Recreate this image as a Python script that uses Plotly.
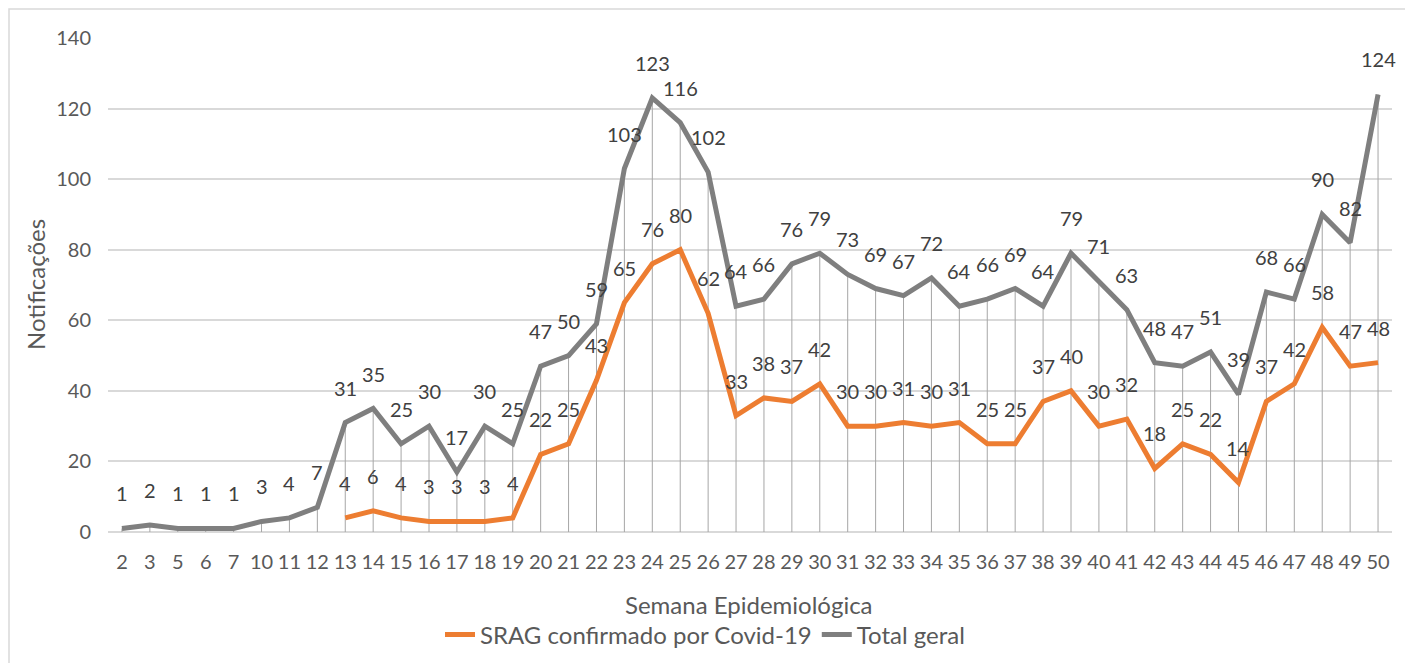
import plotly.graph_objects as go

weeks = ["2", "3", "5", "6", "7", "10", "11", "12"] + [str(w) for w in range(13, 51)]
total_geral = [1, 2, 1, 1, 1, 3, 4, 7, 31, 35, 25, 30, 17, 30, 25, 47, 50, 59, 103, 123,
               116, 102, 64, 66, 76, 79, 73, 69, 67, 72, 64, 66, 69, 64, 79, 71, 63, 48,
               47, 51, 39, 68, 66, 90, 82, 124]
srag_weeks = [str(w) for w in range(13, 51)]
srag_covid = [4, 6, 4, 3, 3, 3, 4, 22, 25, 43, 65, 76, 80, 62, 33, 38, 37, 42, 30, 30,
              31, 30, 31, 25, 25, 37, 40, 30, 32, 18, 25, 22, 14, 37, 42, 58, 47, 48]
y_ticks = [0, 20, 40, 60, 80, 100, 120, 140]

FONT = "Lato, 'Open Sans', sans-serif"
ORANGE = "#ED7D31"
GRAY = "#7F7F7F"

fig = go.Figure()

# drop lines from the highest series down to the axis
dx, dy = [], []
for w, v in zip(weeks, total_geral):
    dx += [w, w, None]
    dy += [0, v, None]
fig.add_trace(go.Scatter(x=dx, y=dy, mode="lines", line=dict(color="#A6A6A6", width=1),
                         showlegend=False, hoverinfo="skip"))

fig.add_trace(go.Scatter(x=srag_weeks, y=srag_covid, mode="lines", name="SRAG confirmado por Covid-19",
                         line=dict(color=ORANGE, width=5)))
fig.add_trace(go.Scatter(x=weeks, y=total_geral, mode="lines", name="Total geral",
                         line=dict(color=GRAY, width=5)))

annotations = []
for w, v in zip(weeks, total_geral):
    annotations.append(dict(x=weeks.index(w), y=v, text=str(v), showarrow=False, yshift=35,
                            font=dict(family=FONT, size=20, color="#404040")))
for w, v in zip(srag_weeks, srag_covid):
    annotations.append(dict(x=weeks.index(w), y=v, text=str(v), showarrow=False, yshift=35,
                            font=dict(family=FONT, size=20, color="#404040")))

annotations.append(dict(xref="paper", yref="paper", x=(35 - 108) / 1284, y=(532 - 285) / 494,
                        xanchor="center", yanchor="middle",
                        text="Notificações", textangle=-90, showarrow=False,
                        font=dict(family=FONT, size=24, color="#595959")))
annotations.append(dict(xref="paper", yref="paper", x=(749 - 108) / 1284, y=(532 - 604) / 494,
                        xanchor="center", yanchor="middle",
                        text="Semana Epidemiológica", showarrow=False,
                        font=dict(family=FONT, size=24, color="#595959")))

# page body adds an 8px offset; figure is laid out so the plot lands where the reference has it
fig.update_layout(
    width=1405, height=655,
    margin=dict(l=100, r=21, t=30, b=131, autoexpand=False),
    paper_bgcolor="white", plot_bgcolor="white",
    font=dict(family=FONT, size=20, color="#595959"),
    annotations=annotations,
    legend=dict(orientation="h", x=(705 - 108) / 1284, xanchor="center",
                y=(532 - 635) / 494, yanchor="middle",
                font=dict(family=FONT, size=24, color="#595959"), traceorder="normal"),
    shapes=[dict(type="rect", xref="paper", yref="paper",
                 x0=(9 - 108) / 1284, x1=(1409 - 108) / 1284,
                 y0=(532 - 680) / 494, y1=(532 - 9) / 494,
                 line=dict(color="#D9D9D9", width=1.5), fillcolor="rgba(0,0,0,0)", layer="below")],
)
fig.update_xaxes(type="category", categoryorder="array", categoryarray=weeks,
                 range=[-0.5, len(weeks) - 0.5], showgrid=False, zeroline=False,
                 showline=False, ticks="outside", ticklen=12, tickcolor="rgba(0,0,0,0)",
                 automargin=False,
                 tickfont=dict(family=FONT, size=20, color="#595959"))
fig.update_yaxes(range=[0, 140], tickvals=y_ticks, showgrid=True, gridcolor="#D9D9D9",
                 gridwidth=1.5, zeroline=True, zerolinecolor="#D9D9D9", zerolinewidth=1.5,
                 ticks="outside", ticklen=12, tickcolor="rgba(0,0,0,0)", automargin=False,
                 tickfont=dict(family=FONT, size=20, color="#595959"))

fig.write_html("out.html")
